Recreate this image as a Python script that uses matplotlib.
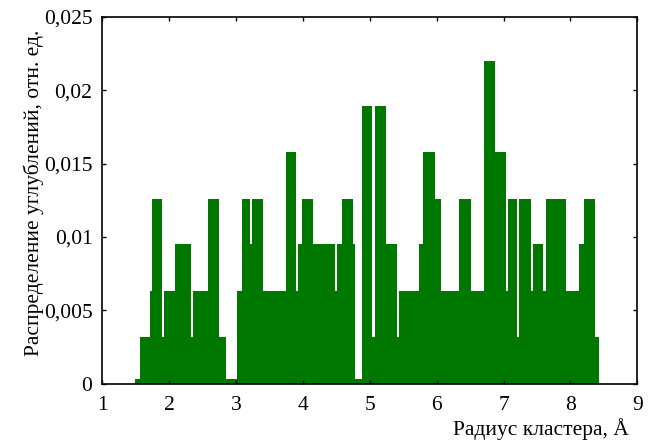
import numpy as np
import matplotlib
matplotlib.use("Agg")
from matplotlib import pyplot as plt
from matplotlib.ticker import FuncFormatter

# края интервалов по радиусу кластера, Å
edges = [1.49, 1.57, 1.72, 1.75, 1.90, 1.93, 2.09, 2.33, 2.36, 2.58,
         2.75, 2.85, 3.02, 3.09, 3.21, 3.24, 3.41, 3.75, 3.89, 3.92,
         3.99, 4.15, 4.48, 4.51, 4.59, 4.75, 4.78, 4.89, 5.04, 5.08,
         5.25, 5.41, 5.44, 5.74, 5.80, 5.98, 6.07, 6.34, 6.52, 6.71,
         6.87, 7.04, 7.07, 7.20, 7.23, 7.41, 7.44, 7.59, 7.64, 7.94,
         8.13, 8.21, 8.37, 8.43]

# распределение углублений, отн. ед.
values = [0.0003, 0.0032, 0.0063, 0.0126, 0.0032, 0.0063, 0.0095, 0.0032, 0.0063, 0.0126,
          0.0032, 0.0003, 0.0063, 0.0126, 0.0095, 0.0126, 0.0063, 0.0158, 0.0063, 0.0095,
          0.0126, 0.0095, 0.0063, 0.0095, 0.0126, 0.0095, 0.0003, 0.0189, 0.0032, 0.0189,
          0.0095, 0.0032, 0.0063, 0.0095, 0.0158, 0.0126, 0.0063, 0.0126, 0.0063, 0.0220,
          0.0158, 0.0063, 0.0126, 0.0032, 0.0126, 0.0063, 0.0095, 0.0063, 0.0126, 0.0063,
          0.0095, 0.0126, 0.0032]

yticks = [0, 0.005, 0.01, 0.015, 0.02, 0.025]
xticks = [1, 2, 3, 4, 5, 6, 7, 8, 9]

plt.rcParams['font.family'] = ['Liberation Serif', 'DejaVu Serif']
plt.rcParams['font.size'] = 15.5

fig = plt.figure(figsize=(6.51, 4.40), dpi=100)
ax = fig.add_axes([0.157, 0.128, 0.822, 0.834])

e = np.array(edges)
ax.bar(e[:-1], values, width=np.diff(e), align='edge', color='#007800', linewidth=0)

ax.set_xlim(1, 9)
ax.set_ylim(0, 0.025)
ax.set_xticks(xticks)
ax.set_yticks(yticks)
ax.yaxis.set_major_formatter(FuncFormatter(lambda v, p: ('%g' % v).replace('.', ',')))
ax.tick_params(direction='in', length=3, width=1, top=True, right=True, pad=7)
ax.tick_params(axis='x', pad=9)
for s in ax.spines.values():
    s.set_linewidth(1.2)

ax.set_xlabel('Радиус кластера, Å', ha='right')
ax.xaxis.set_label_coords(0.985, -0.095)
ax.set_ylabel('Распределение углублений, отн. ед.')
ax.yaxis.set_label_coords(-0.108, 0.52)

fig.savefig('out.png', dpi=100)
